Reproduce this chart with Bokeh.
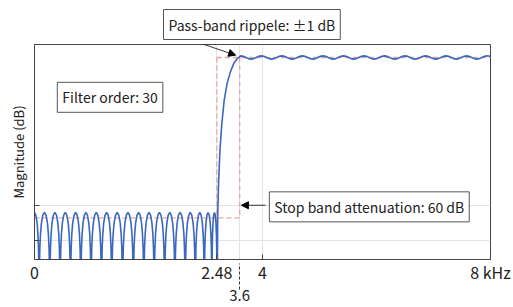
from bokeh.plotting import figure
from bokeh.models import Range1d, FixedTicker, Label, Arrow, NormalHead, Title, LinearAxis
from bokeh.embed import file_html
from bokeh.resources import INLINE

FONT = "Noto Sans CJK JP"

# ---- specification values (kHz / dB) ----
stop_edge_khz = 3.2
pass_edge_khz = 3.6
stop_atten_db = -60.0
pass_level_db = 0.0

# ---- axis ticks ----
x_ticks = [0, 3.2, 4, 8]
x_tick_labels = ["0", "2.48", "4", "8 kHz"]
x_extra_ticks = [3.6]
x_extra_labels = ["3.6"]
x_grid_ticks = [3.2, 3.6, 4]
y_ticks = [-55.3, -68.4]

# ---- stop band: null frequencies (kHz) ----
stop_nulls_khz = [-0.081, 0.081, 0.268, 0.449, 0.631, 0.812, 0.992, 1.175,
                  1.355, 1.545, 1.734, 1.918, 2.100, 2.283, 2.463, 2.644,
                  2.821, 2.979, 3.112, 3.203]
stop_peak_db = -58.0
# shape of one lobe between two nulls (fraction of lobe, dB below lobe peak)
lobe_frac = [0.0, 0.03, 0.07, 0.13, 0.22, 0.35, 0.5, 0.65, 0.78, 0.87, 0.93, 0.97]
lobe_shape_db = [-40.0, -20.5, -13.2, -8.0, -3.9, -1.0, 0.0, -1.0, -3.9, -8.0, -13.2, -20.5]

# ---- transition band ----
trans_khz = [3.203, 3.214, 3.231, 3.254, 3.284, 3.328, 3.380, 3.441, 3.499, 3.559]
trans_db = [-98.0, -59.0, -46.0, -34.7, -25.3, -16.0, -9.6, -5.1, -2.1, -0.4]

# ---- pass band ripple extrema ----
pass_khz = [3.617, 3.80, 3.98, 4.16, 4.34, 4.52, 4.70, 4.88, 5.06, 5.24, 5.42,
            5.60, 5.78, 5.96, 6.14, 6.32, 6.50, 6.68, 6.86, 7.04, 7.22, 7.40,
            7.58, 7.76, 7.94, 8.0]
pass_db = [0.6, -0.6, 0.6, -0.6, 0.6, -0.6, 0.6, -0.6, 0.6, -0.6, 0.6, -0.6,
           0.6, -0.6, 0.6, -0.6, 0.6, -0.6, 0.6, -0.6, 0.6, -0.6, 0.6, -0.6,
           0.6, 0.45]
half_wave_frac = [0.0, 0.25, 0.5, 0.75]
half_wave_mix = [0.0, 0.146, 0.5, 0.854]

# ---- assemble the response curve ----
xs, ys = [], []
for a, b in zip(stop_nulls_khz[:-1], stop_nulls_khz[1:]):
    for f, s in zip(lobe_frac, lobe_shape_db):
        xs.append(a + f * (b - a))
        ys.append(stop_peak_db + s)
xs += trans_khz
ys += trans_db
for i in range(len(pass_khz) - 1):
    a, b = pass_khz[i], pass_khz[i + 1]
    va, vb = pass_db[i], pass_db[i + 1]
    for f, m in zip(half_wave_frac, half_wave_mix):
        xs.append(a + f * (b - a))
        ys.append(va + m * (vb - va))
xs.append(pass_khz[-1])
ys.append(pass_db[-1])

Y_MIN, Y_MAX = -75.6, 4.86

p = figure(width=513, height=307, x_range=Range1d(0, 8), y_range=Range1d(Y_MIN, Y_MAX),
           output_backend="svg", toolbar_location=None,
           min_border_left=34, min_border_right=23, min_border_top=44, min_border_bottom=48)
p.outline_line_color = "#444444"
p.outline_line_width = 1
p.background_fill_color = "white"
p.border_fill_color = "white"

# title used as the boxed pass-band note above the frame
p.title = Title(text="Pass-band rippele: ±1 dB", align="left", offset=129,
                text_font=FONT, text_font_size="14px", text_font_style="normal",
                text_color="#222222", standoff=10, padding=5,
                background_fill_color="white", border_line_color="#555555",
                border_line_width=1)

# grid
p.xgrid.ticker = FixedTicker(ticks=x_grid_ticks)
p.ygrid.ticker = FixedTicker(ticks=y_ticks)
p.xgrid.grid_line_color = "#e3e3e3"
p.ygrid.grid_line_color = "#e3e3e3"

# x axis
xa = p.xaxis[0]
xa.ticker = FixedTicker(ticks=x_ticks)
xa.major_label_overrides = {t: l for t, l in zip(x_ticks, x_tick_labels)}
xa.major_tick_in = 5
xa.major_tick_out = 0
xa.minor_tick_line_color = None
xa.axis_line_color = "#444444"
xa.major_tick_line_color = "#444444"
xa.major_label_text_font = FONT
xa.major_label_text_font_size = "16px"
xa.major_label_text_color = "#222222"
xa.major_label_standoff = 0

# second x axis carrying the dashed pass-band-edge tick and its lowered label
xa2 = LinearAxis(ticker=FixedTicker(ticks=x_extra_ticks),
                 major_label_overrides={t: l for t, l in zip(x_extra_ticks, x_extra_labels)},
                 axis_line_color=None, minor_tick_line_color=None,
                 major_tick_in=23, major_tick_out=3,
                 major_tick_line_color="#333333", major_tick_line_dash="3 2",
                 major_label_text_font=FONT, major_label_text_font_size="15px",
                 major_label_text_color="#222222", major_label_standoff=0)
p.add_layout(xa2, "below")

# y axis
ya = p.yaxis[0]
ya.ticker = FixedTicker(ticks=y_ticks)
ya.major_label_overrides = {t: "" for t in y_ticks}
ya.major_tick_in = 5
ya.major_tick_out = 0
ya.minor_tick_line_color = None
ya.axis_line_color = "#444444"
ya.major_tick_line_color = "#444444"
ya.major_label_standoff = 0
ya.axis_label = "Magnitude (dB)"
ya.axis_label_text_font = FONT
ya.axis_label_text_font_style = "normal"
ya.axis_label_text_font_size = "13px"
ya.axis_label_text_color = "#222222"
ya.axis_label_standoff = 7

# specification template (red dashed)
red = "#eba5a5"
p.segment(x0=[stop_edge_khz, stop_edge_khz, pass_edge_khz, 0],
          y0=[pass_level_db, pass_level_db, pass_level_db, stop_atten_db],
          x1=[8, stop_edge_khz, pass_edge_khz, pass_edge_khz],
          y1=[pass_level_db, Y_MIN, stop_atten_db, stop_atten_db],
          line_color=red, line_width=1.3, line_dash="5 3")

# response
p.line(xs, ys, line_color="#3a68bf", line_width=1.6)

box = dict(text_font=FONT, text_font_size="14px", text_color="#222222",
           text_align="left", text_baseline="middle", padding=5,
           background_fill_color="white", border_line_color="#555555", border_line_width=1)

p.add_layout(Label(x=0.40, y=-14.9, text="Filter order: 30", **box))
p.add_layout(Label(x=4.12, y=-55.9, text="Stop band attenuation: 60 dB", **box))

p.add_layout(Arrow(x_start=2.447, y_start=8.7, x_end=3.529, y_end=0.86,
                   line_color="black", line_width=0.8,
                   end=NormalHead(size=7, fill_color="black", line_color="black")))
p.add_layout(Arrow(x_start=4.055, y_start=-55.3, x_end=3.63, y_end=-55.3,
                   line_color="black", line_width=0.8,
                   end=NormalHead(size=7, fill_color="black", line_color="black")))

open("out.html", "w").write(file_html(p, INLINE))
